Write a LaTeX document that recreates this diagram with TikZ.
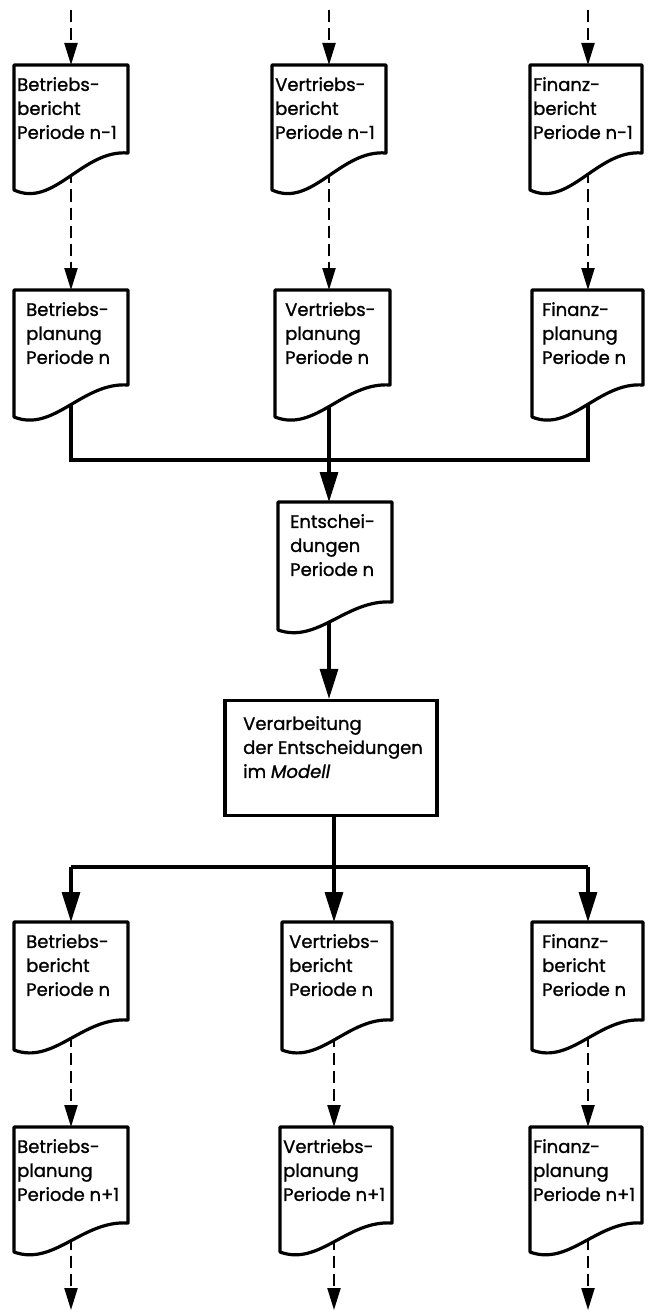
\documentclass[tikz,border=0pt]{standalone}
\usepackage{fontspec}
\setmainfont{Poppins}[FakeBold=1.2]
\usetikzlibrary{arrows.meta,backgrounds}
\tikzset{
  box/.style={line width=3.2pt, fill=white, line join=round},
  txt/.style={inner sep=0pt, align=left, font=\fontsize{18}{24}\selectfont},
  solidarrow/.style={line width=3.2pt, -{Triangle[length=30pt,width=18pt]}},
  solidline/.style={line width=3.2pt},
  dasharrow/.style={line width=2.2pt, dash pattern=on 12pt off 6pt, -{Triangle[length=22pt,width=13pt]}},
}
% #1 name, #2 xl, #3 xr, #4 arrow x, #5 top, #6 y bottom right, #7 y bottom left, #8 inset, #9 text
\newcommand\docbox[9]{%
  \pgfmathsetmacro\dw{#3-#2}%
  \pgfmathsetmacro\dd{#7-#6}%
  \draw[box] (#2,#5) -- (#3,#5) -- (#3,#6)
    .. controls ({#2+0.6*\dw},{#6-0.1*\dd}) and ({#2+0.35*\dw},{#7+0.5*\dd}) .. (#2,#7) -- cycle;
  \coordinate (#1-top) at (#4,#5);
  \coordinate (#1-bot) at (#4,{#6+0.5*\dd});
  \node[txt, anchor=north west] (#1) at ({#2+#8},{#5+12}) {#9};
}
\begin{document}
\begin{tikzpicture}[x=1pt,y=-1pt]
\useasboundingbox (0,0) rectangle (649,1316);
% boxes
\docbox{bL1}{14}{128}{71}{65}{153}{190}{3}{Betriebs-\\bericht\\Periode n-1}
\docbox{bM1}{272}{386}{329}{65}{153}{190}{3}{Vertriebs-\\bericht\\Periode n-1}
\docbox{bR1}{530}{642}{588}{65}{153}{190}{3}{Finanz-\\bericht\\Periode n-1}
\docbox{pL2}{14}{128}{71}{290}{385}{417}{12}{Betriebs-\\planung\\Periode n}
\docbox{pM2}{275}{390}{329}{290}{385}{417}{10}{Vertriebs-\\planung\\Periode n}
\docbox{pR2}{532}{643}{588}{290}{385}{417}{10}{Finanz-\\planung\\Periode n}
\docbox{E}{278}{392}{329}{502}{602}{630}{12}{Entschei-\\dungen\\Periode n}
\node[draw, line width=3.2pt, minimum width=212pt, minimum height=115pt] (V) at (331,758) {};
\node[txt, anchor=north west] (Vt) at (243,716) {Verarbeitung\\der Entscheidungen\\im \textit{Modell}};
\docbox{bL3}{14}{128}{71}{922}{1020}{1050}{12}{Betriebs-\\bericht\\Periode n}
\docbox{bM3}{282}{392}{334}{922}{1020}{1050}{7}{Vertriebs-\\bericht\\Periode n}
\docbox{bR3}{532}{643}{588}{922}{1020}{1050}{10}{Finanz-\\bericht\\Periode n}
\docbox{pL4}{14}{128}{71}{1127}{1223}{1252}{3}{Betriebs-\\planung\\Periode n+1}
\docbox{pM4}{280}{392}{334}{1127}{1223}{1252}{3}{Vertriebs-\\planung\\Periode n+1}
\docbox{pR4}{530}{642}{588}{1127}{1223}{1252}{3}{Finanz-\\planung\\Periode n+1}
% connectors
\begin{scope}[on background layer]
\coordinate (inL) at (71,10);
\coordinate (inM) at (329,10);
\coordinate (inR) at (588,10);
\coordinate (j1) at (329,460);
\coordinate (j2) at (334,867);
\coordinate (outL) at (71,1310);
\coordinate (outM) at (334,1310);
\coordinate (outR) at (588,1310);
\draw[dasharrow] (inL) -- (bL1-top);
\draw[dasharrow] (inM) -- (bM1-top);
\draw[dasharrow] (inR) -- (bR1-top);
\draw[dasharrow] (bL1-bot) -- (pL2-top);
\draw[dasharrow] (bM1-bot) -- (pM2-top);
\draw[dasharrow] (bR1-bot) -- (pR2-top);
\draw[solidline] (pL2-bot) -- (pL2-bot |- j1) -- (pR2-bot |- j1) -- (pR2-bot);
\draw[solidarrow] (pM2-bot) -- (E-top);
\draw[solidarrow] (E-bot) -- (E-bot |- V.north);
\draw[solidline] (V.south -| j2) -- (j2);
\draw[solidline] (bL3-top |- j2) -- (bR3-top |- j2);
\draw[solidarrow] (bL3-top |- j2) -- (bL3-top);
\draw[solidarrow] (j2) -- (bM3-top);
\draw[solidarrow] (bR3-top |- j2) -- (bR3-top);
\draw[dasharrow] (bL3-bot) -- (pL4-top);
\draw[dasharrow] (bM3-bot) -- (pM4-top);
\draw[dasharrow] (bR3-bot) -- (pR4-top);
\draw[dasharrow] (pL4-bot) -- (outL);
\draw[dasharrow] (pM4-bot) -- (outM);
\draw[dasharrow] (pR4-bot) -- (outR);
\end{scope}
\end{tikzpicture}
\end{document}
